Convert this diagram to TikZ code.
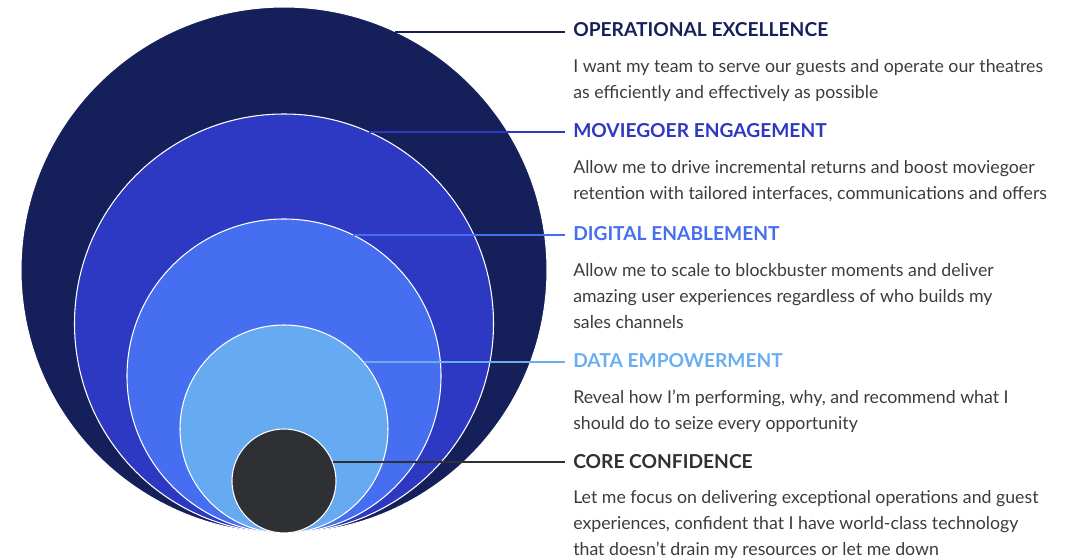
\documentclass[tikz,border=0pt]{standalone}
\usepackage{fontspec}
\setmainfont{Lato}
\usetikzlibrary{positioning}

\definecolor{navy}{HTML}{151F5A}
\definecolor{royal}{HTML}{2D39C2}
\definecolor{medblue}{HTML}{456EF0}
\definecolor{skyblue}{HTML}{66AAF2}
\definecolor{coregray}{HTML}{2F3034}
\definecolor{skytext}{HTML}{6AAEF2}
\definecolor{bodygray}{HTML}{3C3C3C}

\begin{document}
\begin{tikzpicture}[x=0.75pt, y=-0.75pt,
    ring/.style={circle, draw=white, line width=0.8pt, inner sep=0pt, outer sep=0pt},
    title/.style={anchor=west, inner xsep=6pt, inner ysep=0pt, font=\bfseries\fontsize{14.4}{16}\selectfont},
    blurb/.style={anchor=base west, align=left, inner sep=0pt, text=bodygray, font=\fontsize{13.3}{19.5}\selectfont},
    lead/.style={line width=1.5pt}]
    \useasboundingbox (0,0) rectangle (1076,559);

    % Nested circles
    \node[ring, fill=navy, minimum size=526*0.75pt] (c1) at (284,270) {};
    \node[ring, fill=royal, minimum size=419*0.75pt] (c2) at (284,323.5) {};
    \node[ring, fill=medblue, minimum size=314*0.75pt] (c3) at (284,376) {};
    \node[ring, fill=skyblue, minimum size=208*0.75pt] (c4) at (284,429) {};
    \node[ring, fill=coregray, minimum size=104*0.75pt] (c5) at (284,481) {};

    % Headings
    \node[title, text=navy] (h1) at (565,30) {OPERATIONAL EXCELLENCE};
    \node[title, text=royal] (h2) at (565,131) {MOVIEGOER ENGAGEMENT};
    \node[title, text=medblue] (h3) at (565,234) {DIGITAL ENABLEMENT};
    \node[title, text=skytext] (h4) at (565,361) {DATA EMPOWERMENT};
    \node[title, text=coregray] (h5) at (565,462) {CORE CONFIDENCE};

    % Descriptions (placed at the baseline of their last line)
    \node[blurb] (t1) at (573,99) {I want my team to serve our guests and operate our theatres\\as efficiently and effectively as possible};
    \node[blurb] (t2) at (573,200) {Allow me to drive incremental returns and boost moviegoer\\retention with tailored interfaces, communications and offers};
    \node[blurb] (t3) at (573,329) {Allow me to scale to blockbuster moments and deliver\\amazing user experiences regardless of who builds my\\sales channels};
    \node[blurb] (t4) at (573,430) {Reveal how I’m performing, why, and recommend what I\\should do to seize every opportunity};
    \node[blurb] (t5) at (573,556) {Let me focus on delivering exceptional operations and guest\\experiences, confident that I have world-class technology\\that doesn’t drain my resources or let me down};

    % Leader lines
    \draw[lead, navy] (c1.65.85) -- (c1.65.85 -| h1.west);
    \draw[lead, royal] (c2.66.77) -- (c2.66.77 -| h2.west);
    \draw[lead, medblue] (c3.64.76) -- (c3.64.76 -| h3.west);
    \draw[lead, skytext] (c4.40.83) -- (c4.40.83 -| h4.west);
    \draw[lead, coregray] (c5.21.43) -- (c5.21.43 -| h5.west);
\end{tikzpicture}
\end{document}
